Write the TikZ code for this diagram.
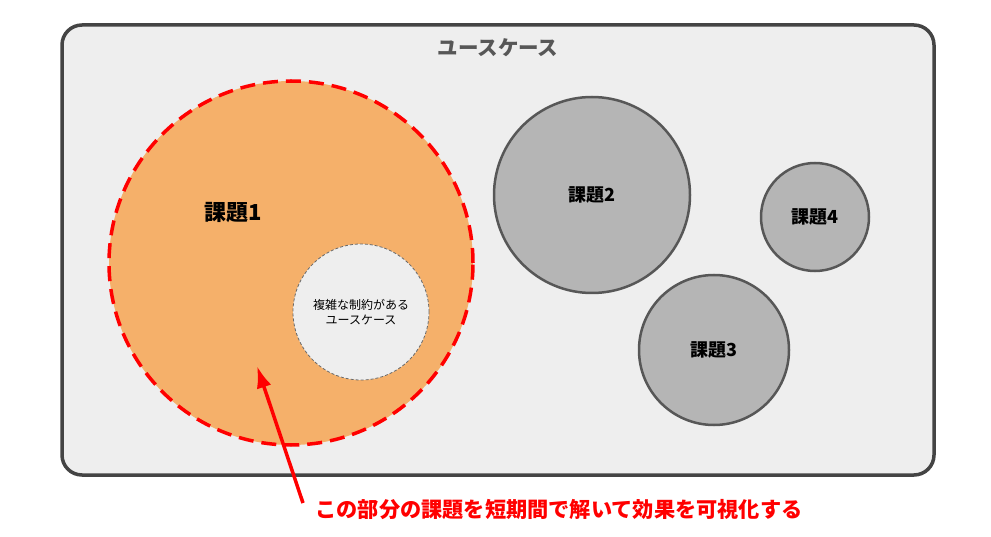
\documentclass[tikz,border=0pt]{standalone}
\usepackage{fontspec}
\usepackage{xcolor}
\usetikzlibrary{arrows.meta}
\setmainfont{Noto Sans CJK JP}

\definecolor{framegray}{HTML}{444444}
\definecolor{panelgray}{HTML}{EEEEEE}
\definecolor{issuegray}{HTML}{B5B5B5}
\definecolor{issueorange}{HTML}{F5B06A}
\definecolor{notered}{HTML}{FF0000}

\begin{document}
\begin{tikzpicture}[x=1pt, y=-1pt,
  panel/.style={draw=framegray, fill=panelgray, line width=3.5pt, rounded corners=20pt},
  issue/.style={circle, draw=framegray!90, fill=issuegray, line width=2.5pt, inner sep=0pt,
    font=\bfseries\fontsize{18}{20}\selectfont},
  focusissue/.style={circle, draw=notered, fill=issueorange, line width=3.5pt, inner sep=0pt,
    dash pattern=on 15pt off 8pt},
  subcase/.style={circle, draw=framegray!80, fill=panelgray, densely dashed, line width=0.8pt,
    inner sep=0pt, align=center, font=\fontsize{12}{15}\selectfont},
  notearrow/.style={-{Latex[length=22pt,width=15pt]}, draw=notered, line width=3.5pt},
  notetext/.style={text=notered, font=\bfseries\fontsize{21.2}{23}\selectfont, anchor=west}
]
  \useasboundingbox (0,0) rectangle (991,537);
  \draw[panel] (62,25) rectangle (934,475);
  \node[text=framegray!90, font=\bfseries\fontsize{20.5}{22}\selectfont] (title) at (498,48) {ユースケース};

  \node[focusissue, minimum size=364pt] (issue1) at (291,263) {};
  \node[font=\bfseries\fontsize{22}{24}\selectfont] (label1) at (233,213) {課題1};
  \node[subcase, minimum size=136pt] (complex) at (361,312) {複雑な制約がある\\ユースケース};

  \node[issue, minimum size=196pt] (issue2) at (592,195) {課題2};
  \node[issue, minimum size=150pt] (issue3) at (714,350) {課題3};
  \node[issue, minimum size=108pt] (issue4) at (815,217) {課題4};

  \node[notetext] (note) at (312,510) {この部分の課題を短期間で解いて効果を可視化する};
  \coordinate (tail) at (303,503);
  \coordinate (tip) at (257,366);
  \draw[notearrow] (tail) -- (tip);
\end{tikzpicture}
\end{document}
